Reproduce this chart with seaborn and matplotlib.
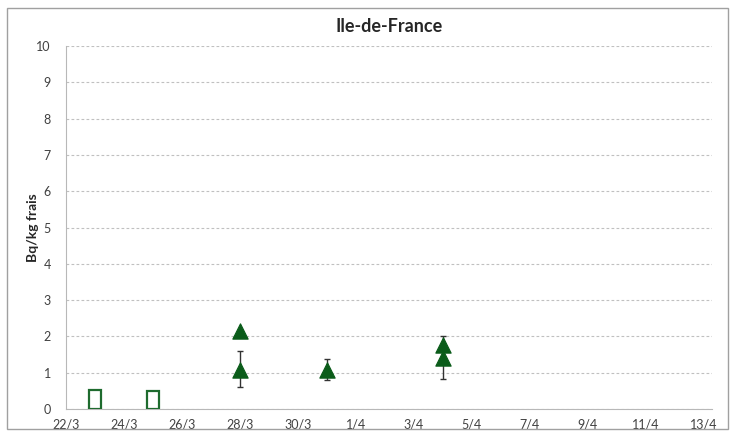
import matplotlib
matplotlib.use("Agg")
import matplotlib.pyplot as plt
import matplotlib.dates as mdates
import matplotlib.patches as mpatches
import pandas as pd
import seaborn as sns

# Open squares (bars) : results below detection limit
bar_dates = ["2011-03-23", "2011-03-25"]
bar_values = [0.52, 0.49]

# Measured values (triangles) with uncertainty
tri_dates = ["2011-03-28", "2011-03-28", "2011-03-31", "2011-04-04", "2011-04-04"]
tri_values = [2.15, 1.08, 1.08, 1.76, 1.42]
tri_err_low = [0.0, 0.48, 0.27, 0.0, 0.60]
tri_err_high = [0.0, 0.52, 0.31, 0.26, 0.0]

tick_dates = pd.date_range("2011-03-22", "2011-04-13", freq="2D")
tick_labels = [f"{d.day}/{d.month}" for d in tick_dates]

title = "Ile-de-France"
ylabel = "Bq/kg frais"

sns.set_style("white")
plt.rcParams["font.family"] = ["Lato", "DejaVu Sans"]

fig = plt.figure(figsize=(7.37, 4.38), dpi=100)
ax = fig.add_axes([0.0896, 0.066, 0.877, 0.829])

df_tri = pd.DataFrame({"date": pd.to_datetime(tri_dates), "value": tri_values})
bars = pd.to_datetime(bar_dates)

ax.bar(bars, bar_values, width=0.42, facecolor="white", edgecolor="#1e6b2e",
       linewidth=1.6, zorder=3)
ax.errorbar(df_tri["date"], df_tri["value"], yerr=[tri_err_low, tri_err_high],
            fmt="none", ecolor="#333333", elinewidth=1, capsize=2.5, zorder=3)
sns.scatterplot(data=df_tri, x="date", y="value", marker="^", s=120,
                color="#0b5c1a", edgecolor="#0b5c1a", ax=ax, zorder=4)

ax.set_ylim(0, 10)
ax.set_yticks(range(0, 11))
ax.set_xlim(pd.Timestamp("2011-03-22"), pd.Timestamp("2011-04-13") + pd.Timedelta(hours=7))
ax.set_xticks(tick_dates)
ax.set_xticklabels(tick_labels)
ax.xaxis.set_minor_locator(mdates.DayLocator())

ax.yaxis.grid(True, color="#c0c0c0", linestyle=(0, (2.5, 2)), linewidth=0.8)
for s in ["top", "right"]:
    ax.spines[s].set_visible(False)
for s in ["left", "bottom"]:
    ax.spines[s].set_color("#b8b8b8")
ax.tick_params(axis="both", which="both", length=3, color="#b8b8b8",
               labelsize=9, labelcolor="#404040", direction="out")
ax.tick_params(axis="x", which="minor", length=2)
ax.tick_params(axis="y", pad=8)

ax.set_xlabel("")
ax.set_ylabel(ylabel, fontsize=10, fontweight="bold")
ax.yaxis.set_label_coords(-0.042, 0.5)
ax.set_title(title, fontsize=13, fontweight="bold", pad=10)

fig.patches.append(mpatches.Rectangle((0.01, 0.02), 0.978, 0.962, transform=fig.transFigure,
                                      fill=False, edgecolor="#a0a0a0", linewidth=1))

fig.savefig("out.png", dpi=100)
